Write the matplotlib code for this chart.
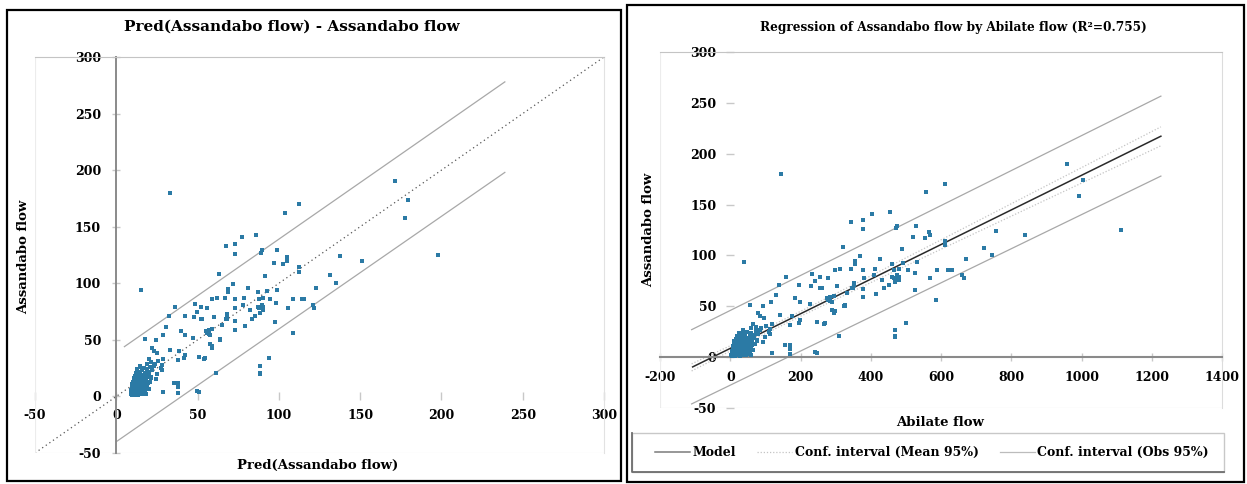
import numpy as np
import matplotlib
matplotlib.use("Agg")
import matplotlib.pyplot as plt
from matplotlib.patches import Rectangle
from matplotlib.lines import Line2D

plt.rcParams['font.family'] = ['DejaVu Serif']
plt.rcParams['axes.unicode_minus'] = False

# ---- data ----
# observations: Abilate flow (x of right panel) and Assandabo flow (y of both panels)
abilate = [
    144, 40, 345, 377, 377, 404, 454, 473, 475, 320, 370, 354, 354, 425, 461, 313, 297, 344,
    377, 411, 234, 256, 277, 160, 140, 197, 231, 240, 256, 261, 304, 351, 350, 377, 377, 416,
    439, 461, 475, 294, 275, 285, 326, 131, 117, 183, 199, 228, 93, 55, 78,
    959, 611, 558, 530, 565, 568, 554, 519, 611, 611, 758, 839, 722, 745, 672, 489, 532, 493,
    480, 506, 527, 589, 620, 630, 480, 480, 570, 660, 665, 525, 587,
    1005, 992, 1113,
    285, 290, 297, 326, 268, 309, 501, 470, 470, 470,
    85, 95, 119, 142, 66, 114, 114, 85, 66, 76, 93, 171, 199, 195, 157, 171, 171, 119, 247,
    247, 176, 171, 242,
    279, 285, 290, 294, 271, 332, 323, 351, 347, 380, 408, 432, 465, 475, 465, 470, 451,
    # dense cluster near the origin
    3, 6, 8, 10, 12, 14, 16, 18, 20, 22, 25, 28, 30, 33, 36, 40, 44, 48, 52, 58,
    4, 7, 9, 12, 15, 17, 19, 21, 24, 26, 29, 31, 34, 37, 41, 45, 50, 55, 60, 66,
    8, 11, 14, 18, 21, 24, 27, 30, 33, 36, 40, 44, 48, 53, 58, 63, 70,
    12, 16, 20, 24, 28, 32, 36, 40, 45, 50, 56, 62, 68, 75,
    20, 26, 31, 36, 42, 48, 55, 60, 67, 72, 80,
    88, 102, 110, 98, 60, 35, 74,
]
assandabo = [
    180, 94, 133, 135, 126, 141, 143, 127, 129, 108, 99, 95, 92, 96, 92, 87, 86, 87,
    86, 87, 82, 79, 78, 79, 71, 71, 70, 75, 68, 68, 70, 71, 68, 67, 59, 62,
    68, 79, 78, 60, 58, 56, 51, 61, 54, 58, 54, 52, 50, 51, 43,
    190, 170, 162, 129, 123, 120, 117, 118, 114, 110, 124, 120, 107, 100, 96, 106, 94, 93,
    87, 86, 83, 86, 86, 86, 79, 76, 78, 81, 78, 66, 56,
    174, 158, 125,
    55, 46, 45, 50, 33, 21, 34, 27, 21, 20,
    40, 38, 33, 41, 33, 28, 23, 27, 22, 17, 15, 32, 37, 34, 12, 12, 8, 4, 35,
    4, 40, 3, 5,
    56, 59, 54, 43, 34, 63, 50, 73, 68, 78, 81, 76, 86, 81, 78, 74, 71,
    2, 1, 3, 2, 4, 1, 3, 2, 5, 2, 3, 1, 4, 2, 3, 5, 2, 4, 3, 2,
    6, 8, 5, 9, 7, 6, 9, 8, 6, 10, 7, 9, 6, 8, 10, 7, 9, 6, 8, 7,
    11, 13, 12, 14, 11, 13, 12, 15, 11, 14, 12, 13, 15, 11, 14, 12, 13,
    16, 18, 17, 19, 16, 18, 20, 17, 19, 16, 18, 17, 19, 16,
    21, 24, 22, 26, 23, 25, 21, 24, 22, 26, 23,
    29, 31, 25, 20, 29, 27, 30,
]

# regression coefficients (Assandabo = b0 + b1 * Abilate), R2 = 0.755
b0, b1 = 8.6, 0.1701
pred = [b0 + b1 * a for a in abilate]

# left panel reference lines
diag_x = [-50, 300]
diag_y = [-50, 300]
left_up_x, left_up_y = [5, 239], [44, 278]
left_lo_x, left_lo_y = [0, 239], [-40, 198]

# right panel model and intervals
model_x, model_y = [-107, 1226], [-9.6, 217.2]
obs_x = [-110, 1226]
obs_up = [27, 256.6]
obs_lo = [-46, 178]
mean_x = [-110, 0, 200, 400, 600, 800, 1000, 1226]
mean_up = [-6.6, 11.2, 45.0, 79.9, 115.3, 150.8, 186.3, 226.4]
mean_lo = [-13.6, 6.0, 40.2, 73.3, 106.1, 138.6, 171.1, 207.8]

left_ticks = [-50, 0, 50, 100, 150, 200, 250, 300]
right_xticks = [-200, 0, 200, 400, 600, 800, 1000, 1200, 1400]
right_yticks = [-50, 0, 50, 100, 150, 200, 250, 300]

PT_COLOR = '#2b7aa5'
W, H = 1247, 484


def fx(px):
    return px / W


def fy(py):
    return 1 - py / H


fig = plt.figure(figsize=(12.47, 4.84), dpi=100)

# outer black frames
fig.patches.append(Rectangle((fx(7), fy(481)), fx(621) - fx(7), fy(10) - fy(481),
                             transform=fig.transFigure, fill=False, ec='black', lw=1.6))
fig.patches.append(Rectangle((fx(627), fy(482)), fx(1244) - fx(627), fy(5) - fy(482),
                             transform=fig.transFigure, fill=False, ec='black', lw=1.6))

# ---------------- left panel ----------------
ax1 = fig.add_axes([fx(35), fy(453), fx(604) - fx(35), fy(57) - fy(453)])
ax1.set_xlim(-50, 300)
ax1.set_ylim(-50, 300)
ax1.plot(diag_x, diag_y, color='#555555', lw=0.9, ls=(0, (1, 2.5)), zorder=2)
ax1.plot(left_up_x, left_up_y, color='#a8a8a8', lw=0.9, zorder=2)
ax1.plot(left_lo_x, left_lo_y, color='#a8a8a8', lw=0.9, zorder=2)
ax1.scatter(pred, assandabo, s=10, marker='s', color=PT_COLOR, lw=0, zorder=3)

ax1.spines['left'].set_position(('data', 0))
ax1.spines['left'].set_color('#8a8a8a')
ax1.spines['left'].set_linewidth(1.4)
ax1.spines['bottom'].set_position(('data', 0))
ax1.spines['bottom'].set_color('none')
ax1.spines['top'].set_color('#c4c4c4')
ax1.spines['right'].set_color('#e2e2e2')
ax1.axvline(-50, color='#ececec', lw=0.8)
ax1.axhline(-50, color='#e6e6e6', lw=0.8)
ax1.set_xticks(left_ticks)
ax1.set_yticks(left_ticks)
ax1.tick_params(direction='inout', length=6, color='#c8c8c8', width=1,
                labelsize=9)
ax1.tick_params(axis='x', pad=6)
ax1.tick_params(axis='y', pad=8)
for lab in ax1.get_xticklabels() + ax1.get_yticklabels():
    lab.set_fontweight('bold')

fig.text(fx(292), fy(27), 'Pred(Assandabo flow) - Assandabo flow', ha='center', va='center',
         fontsize=11, fontweight='bold')
fig.text(fx(318), fy(465), 'Pred(Assandabo flow)', ha='center', va='center',
         fontsize=9.5, fontweight='bold')
fig.text(fx(24), fy(257), 'Assandabo flow', ha='center', va='center', rotation=90,
         fontsize=9.5, fontweight='bold')

# ---------------- right panel ----------------
ax2 = fig.add_axes([fx(660), fy(408), fx(1222) - fx(660), fy(52) - fy(408)])
ax2.set_xlim(-200, 1400)
ax2.set_ylim(-50, 300)
ax2.plot(obs_x, obs_up, color='#a8a8a8', lw=0.9, zorder=2)
ax2.plot(obs_x, obs_lo, color='#a8a8a8', lw=0.9, zorder=2)
ax2.plot(mean_x, mean_up, color='#c4c4c4', lw=0.9, ls=(0, (1, 1.5)), zorder=2)
ax2.plot(mean_x, mean_lo, color='#c4c4c4', lw=0.9, ls=(0, (1, 1.5)), zorder=2)
ax2.plot(model_x, model_y, color='#2a2a2a', lw=1.1, zorder=2)
ax2.scatter(abilate, assandabo, s=10, marker='s', color=PT_COLOR, lw=0, zorder=3)

ax2.spines['left'].set_position(('data', 0))
ax2.spines['left'].set_color('none')
ax2.spines['bottom'].set_position(('data', 0))
ax2.spines['bottom'].set_color('#8a8a8a')
ax2.spines['bottom'].set_linewidth(1.5)
ax2.spines['top'].set_color('#c4c4c4')
ax2.spines['right'].set_color('#dcdcdc')
ax2.axvline(-200, color='#ececec', lw=0.8)
ax2.axhline(-50, color='#d4d4d4', lw=0.8)
ax2.set_xticks(right_xticks)
ax2.set_yticks(right_yticks)
ax2.tick_params(direction='inout', length=6, color='#c8c8c8', width=1, labelsize=9)
ax2.tick_params(axis='x', pad=7)
ax2.tick_params(axis='y', pad=7)
for lab in ax2.get_xticklabels() + ax2.get_yticklabels():
    lab.set_fontweight('bold')

fig.text(fx(953), fy(28), 'Regression of Assandabo flow by Abilate flow (R\u00b2=0.755)',
         ha='center', va='center', fontsize=8.7, fontweight='bold')
fig.text(fx(940), fy(422), 'Abilate flow', ha='center', va='center',
         fontsize=9.5, fontweight='bold')
fig.text(fx(649), fy(230), 'Assandabo flow', ha='center', va='center', rotation=90,
         fontsize=9.5, fontweight='bold')

# legend box
fig.patches.append(Rectangle((fx(632), fy(472)), fx(1224) - fx(632), fy(433) - fy(472),
                             transform=fig.transFigure, fill=False, ec='#c8c8c8', lw=1))
fig.lines.append(Line2D([fx(632), fx(632), fx(1224)], [fy(433), fy(472), fy(472)],
                        transform=fig.transFigure, color='#6e6e6e', lw=1.3))
handles = [
    Line2D([], [], color='#7a7a7a', lw=1.1),
    Line2D([], [], color='#c4c4c4', lw=0.9, ls=(0, (1, 1.5))),
    Line2D([], [], color='#bcbcbc', lw=0.9),
]
leg = fig.legend(handles, ['Model', 'Conf. interval (Mean 95%)', 'Conf. interval (Obs 95%)'],
                 loc='center', bbox_to_anchor=(fx(932), fy(452.5)), ncol=3, frameon=False,
                 handlelength=2.8, handletextpad=0.2, columnspacing=1.7,
                 prop={'size': 9, 'weight': 'bold'})

fig.savefig('out.png', dpi=100)
